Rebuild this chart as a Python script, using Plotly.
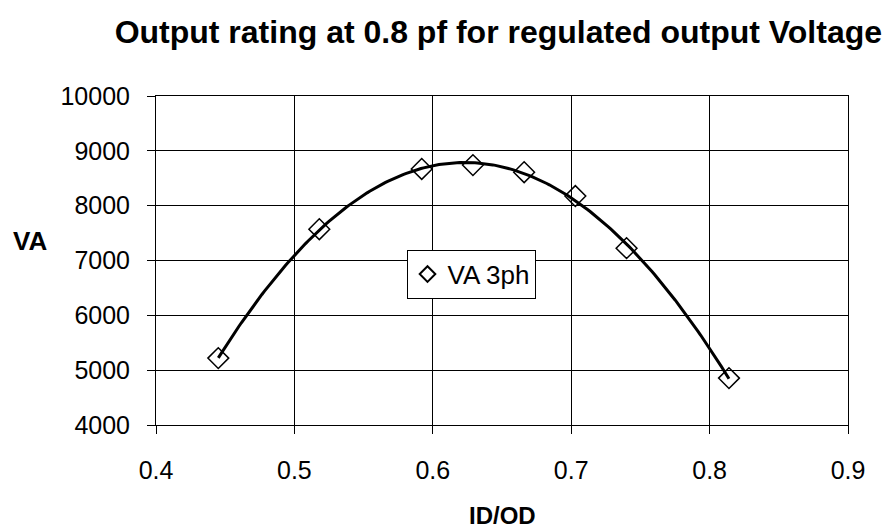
import numpy as np
import plotly.graph_objects as go

# Measured output rating versus inner/outer diameter ratio
id_od = [0.445, 0.518, 0.592, 0.629, 0.666, 0.703, 0.740, 0.814]
va_3ph = [5220, 7570, 8670, 8740, 8610, 8175, 7225, 4855]

x_ticks = [0.4, 0.5, 0.6, 0.7, 0.8, 0.9]
y_ticks = [4000, 5000, 6000, 7000, 8000, 9000, 10000]

# Polynomial trendline through the measured points
coef = np.polyfit(id_od, va_3ph, 3)
xs = np.linspace(min(id_od), max(id_od), 200)
ys = np.polyval(coef, xs)

font = "Liberation Sans, Arial, sans-serif"

fig = go.Figure()
fig.add_trace(go.Scatter(
    x=xs, y=ys, mode="lines", showlegend=False, hoverinfo="skip",
    line=dict(color="black", width=3),
))
fig.add_trace(go.Scatter(
    x=id_od, y=va_3ph, mode="markers", name="VA 3ph",
    marker=dict(symbol="diamond-open", size=16, color="black",
                line=dict(color="black", width=1.5)),
))

axis_common = dict(
    showline=True, linecolor="black", linewidth=1, mirror=True,
    showgrid=True, gridcolor="black", gridwidth=1,
    ticks="outside", ticklen=8, tickcolor="black",
    tickfont=dict(family=font, size=25, color="black"),
    zeroline=False,
)

fig.update_layout(
    width=882, height=532,
    margin=dict(l=156, r=34, t=96, b=107),
    paper_bgcolor="white", plot_bgcolor="white",
    title=dict(
        text="<b>Output rating at 0.8 pf for regulated output Voltage</b>",
        font=dict(family=font, size=32, color="black"),
        x=0.565, xanchor="center", y=0.94, yanchor="middle",
    ),
    xaxis=dict(range=[0.4, 0.9], tickvals=x_ticks,
               ticktext=[f"{v:g}" for v in x_ticks],
               ticklabelstandoff=15, **axis_common),
    yaxis=dict(range=[4000, 10000], tickvals=y_ticks,
               ticktext=[str(v) for v in y_ticks],
               ticklabelstandoff=12, **axis_common),
    legend=dict(
        x=0.362, y=0.533, xanchor="left", yanchor="top",
        bgcolor="white", bordercolor="black", borderwidth=1,
        font=dict(family=font, size=26, color="black"),
        itemsizing="constant", itemwidth=30,
    ),
    annotations=[
        dict(text="<b>VA</b>", xref="paper", yref="paper", x=-0.182, y=0.559,
             xanchor="center", yanchor="middle", showarrow=False,
             font=dict(family=font, size=26, color="black")),
        dict(text="<b>ID/OD</b>", xref="paper", yref="paper", x=0.5, y=-0.274,
             xanchor="center", yanchor="middle", showarrow=False,
             font=dict(family=font, size=24, color="black")),
    ],
)

fig.write_html("out.html")
